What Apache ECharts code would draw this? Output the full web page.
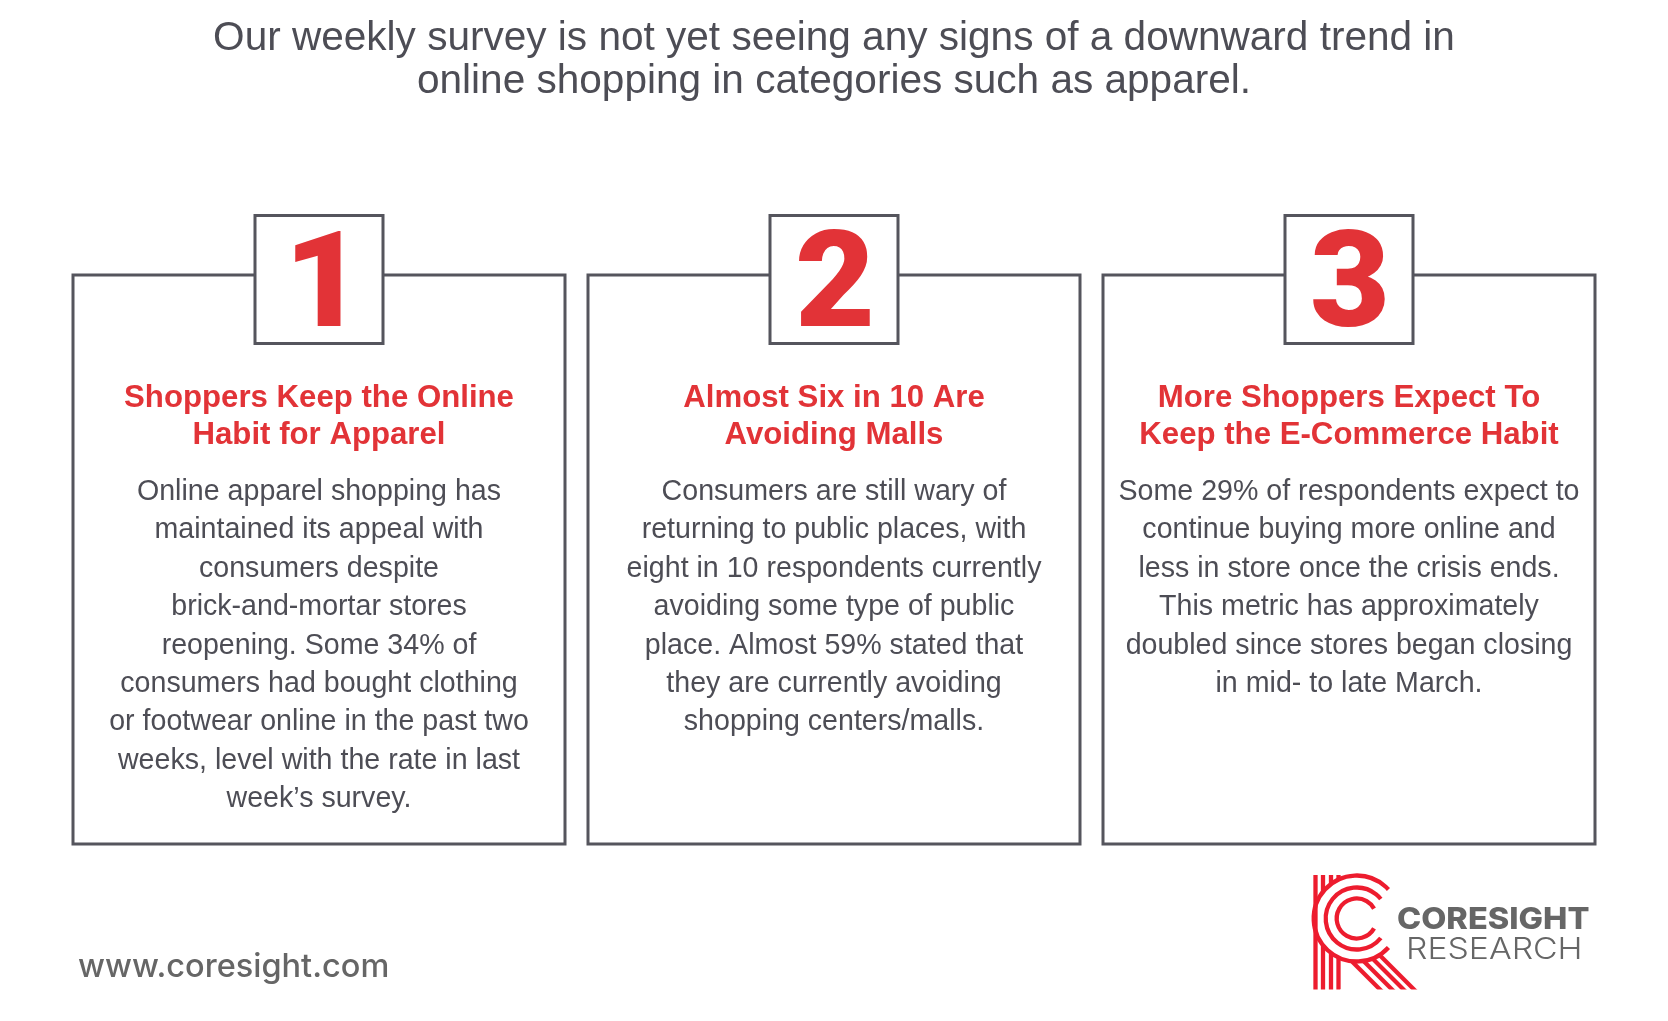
<!DOCTYPE html>
<html><head><meta charset="utf-8">
<style>html,body{margin:0;padding:0;background:#fff}#c{width:1668px;height:1021px}</style>
<script src="https://cdn.jsdelivr.net/npm/echarts@6/dist/echarts.min.js"></script>
</head><body><div id="c"></div>
<script>
const headlineLines = ["Our weekly survey is not yet seeing any signs of a downward trend in","online shopping in categories such as apparel."];
const cardNumbers = ["1","2","3"];
const cardTitles = [
 ["Shoppers Keep the Online","Habit for Apparel"],
 ["Almost Six in 10 Are","Avoiding Malls"],
 ["More Shoppers Expect To","Keep the E-Commerce Habit"]];
const cardBodies = [
 ["Online apparel shopping has","maintained its appeal with","consumers despite","brick-and-mortar stores","reopening. Some 34% of","consumers had bought clothing","or footwear online in the past two","weeks, level with the rate in last","week’s survey."],
 ["Consumers are still wary of","returning to public places, with","eight in 10 respondents currently","avoiding some type of public","place. Almost 59% stated that","they are currently avoiding","shopping centers/malls."],
 ["Some 29% of respondents expect to","continue buying more online and","less in store once the crisis ends.","This metric has approximately","doubled since stores began closing","in mid- to late March."]];
const siteLabel = "www.coresight.com";
const logoWords = ["CORESIGHT","RESEARCH"];

const GREY='#55555d', TXT='#4d4d55', RED='#e23337', LOGO='#ed1c2e', LOGOTXT='#666666';
const FONT='"Liberation Sans", Arial, sans-serif';
const boxes=[[73,565],[588,1080],[1103,1595]];
const numberDx=[5,1,1];
const g=[];
function txt(s,x,y,size,fill,opt){opt=opt||{};
 g.push({type:'text',x:x,y:y,scaleX:opt.sx||1,z:opt.z||5,style:{text:s,fill:fill,textAlign:opt.align||'center',textVerticalAlign:'middle',
  font:(opt.weight||'normal')+' '+size+'px '+(opt.font||FONT)}});}
headlineLines.forEach((l,i)=>txt(l,834,38.5+i*43,40.55,TXT));
boxes.forEach((b,i)=>{
 const c=(b[0]+b[1])/2;
 g.push({type:'rect',z:1,shape:{x:b[0],y:275,width:b[1]-b[0],height:569},style:{fill:'#fff',stroke:GREY,lineWidth:3}});
 g.push({type:'rect',z:2,shape:{x:c-64,y:215.5,width:128,height:128},style:{fill:'#fff',stroke:GREY,lineWidth:3}});
 txt(cardNumbers[i],c+numberDx[i],293,133,RED,{weight:'900',font:'Roboto, sans-serif',sx:1.04});
 cardTitles[i].forEach((l,j)=>txt(l,c,398+j*37,31.2,RED,{weight:'bold'}));
 cardBodies[i].forEach((l,j)=>txt(l,c,491.9+j*38.45,28.6,TXT));
});
txt(siteLabel,78,967,32.5,LOGOTXT,{align:'left',weight:'500',font:'Inter, sans-serif'});
txt(logoWords[0],1397,920,30,LOGOTXT,{align:'left',weight:'800',font:'Inter, sans-serif',sx:1.085});
txt(logoWords[1],1406,950,30,LOGOTXT,{align:'left',weight:'300',font:'Inter, sans-serif',sx:1.125});
// logo
const cx=1356.7,cy=918.5,R=43,logoTop=875,logoBot=989.5,lw=4.3;
function ln(x1,y1,x2,y2){g.push({type:'line',z:3,shape:{x1,y1,x2,y2},style:{stroke:LOGO,lineWidth:lw}});}
ln(1315.5,logoTop,1315.5,logoBot);
[1323,1331,1338.5].forEach(x=>{const d=Math.sqrt(R*R-(x-cx)*(x-cx));ln(x,logoTop,x,cy-d);ln(x,cy+d,x,logoBot);});
[[1352,961.5,1380],[1363.5,961,1392],[1372.5,958.5,1403.5],[1379.5,955,1414]].forEach(p=>ln(p[0],p[1],p[2]+3,logoBot+3));
g.push({type:'rect',z:4,shape:{x:1340,y:logoBot,width:90,height:8},style:{fill:'#fff'}});
[[R,0.74],[31,0.68],[20,0.52]].forEach(a=>{
 g.push({type:'arc',z:5,shape:{cx:cx,cy:cy,r:a[0],startAngle:a[1],endAngle:-a[1],clockwise:true},style:{fill:'none',stroke:LOGO,lineWidth:lw}});
});
const chart=echarts.init(document.getElementById('c'),null,{renderer:'canvas'});
chart.setOption({animation:false,backgroundColor:'#fff',graphic:{elements:g}});
</script></body></html>
